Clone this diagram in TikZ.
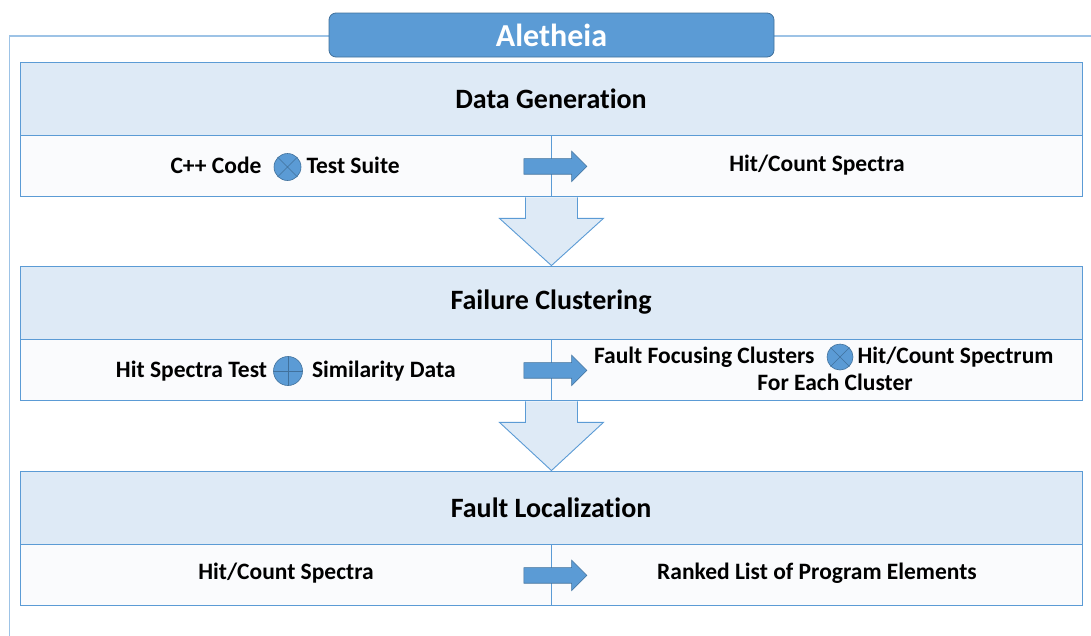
\documentclass[tikz,border=0pt]{standalone}
\usepackage{fontspec}
\setmainfont[Ligatures=NoCommon]{Carlito}
\usetikzlibrary{shapes.arrows,positioning,calc}

\definecolor{accent}{HTML}{5B9BD5}
\definecolor{accentdark}{HTML}{41719C}
\definecolor{headfill}{HTML}{DEEAF6}
\definecolor{bodyfill}{HTML}{FAFBFD}
\definecolor{framecol}{HTML}{9DC3E6}

\tikzset{
  frameline/.style={draw=framecol, line width=1.3pt},
  titlebox/.style={draw=accentdark, fill=accent, line width=0.8pt, rounded corners=7pt,
    minimum width=445pt, minimum height=44pt, text=white, font=\bfseries\fontsize{32}{36}\selectfont},
  headbox/.style={draw=accent, fill=headfill, line width=0.9pt,
    minimum width=1062pt, minimum height=73pt, font=\bfseries\fontsize{28}{32}\selectfont},
  bodybox/.style={draw=accent, fill=bodyfill, line width=0.9pt,
    minimum width=531pt, minimum height=61pt},
  label/.style={font=\bfseries\fontsize{23.5}{27}\selectfont, inner sep=0pt},
  opcircle/.style={circle, draw=accentdark, fill=accent, line width=0.6pt, minimum size=27pt, inner sep=0pt},
  flowarrow/.style={single arrow, draw=accentdark, fill=accent, line width=0.6pt,
    minimum height=63pt, minimum width=30pt, inner xsep=0pt, inner ysep=7.5pt,
    single arrow head extend=7.5pt},
  downarrow/.style={draw=accent, fill=headfill, line width=0.9pt},
}

\newcommand{\crossmark}[1]{%
  \draw[accentdark, line width=0.6pt] (#1.45) -- (#1.225) (#1.135) -- (#1.315);}
\newcommand{\plusmark}[1]{%
  \draw[accentdark, line width=0.6pt] (#1.north) -- (#1.south) (#1.west) -- (#1.east);}

\begin{document}
\begin{tikzpicture}[x=1pt,y=-1pt]
\useasboundingbox (0,0) rectangle (1091,635);

% outer frame, open at right and bottom
\draw[frameline] (330,36) -| (9.5,636);
\draw[frameline] (774,36) -- (1092,36);

% title
\node[titlebox] (title) at (551.5,35) {Aletheia};

% stage 1: data generation
\node[headbox] (h1) at (551,98.5) {Data Generation};
\node[bodybox, anchor=north west] (l1) at (h1.south west) {};
\node[bodybox, anchor=north east] (r1) at (h1.south east) {};

% stage 2: failure clustering
\node[headbox] (h2) at (551,302.5) {Failure Clustering};
\node[bodybox, anchor=north west] (l2) at (h2.south west) {};
\node[bodybox, anchor=north east] (r2) at (h2.south east) {};

% stage 3: fault localization
\node[headbox] (h3) at (551,507.5) {Fault Localization};
\node[bodybox, anchor=north west] (l3) at (h3.south west) {};
\node[bodybox, anchor=north east] (r3) at (h3.south east) {};

% down arrows between stages
\foreach \a/\b in {l1/h2, l2/h3}{
  \draw[downarrow]
    ($(\a.south east)+(-26,0)$) -- ($(\a.south east)+(-26,21)$) -- ($(\a.south east)+(-52,21)$)
    -- (\b.north-|\a.east) -- ($(\a.south east)+(52,21)$) -- ($(\a.south east)+(26,21)$)
    -- ($(\a.south east)+(26,0)$);
}
\draw[accent, line width=0.9pt] (l1.north east) -- (l1.south east);
\draw[accent, line width=0.9pt] (l2.north east) -- (l2.south east);

% row 1
\node[opcircle] (c1) at (287.5,167) {};
\crossmark{c1}
\node[label, left=12pt of c1, yshift=1.5pt] (t1a) {C++ Code};
\node[label, right=5pt of c1, yshift=1.5pt] (t1b) {Test Suite};
\node[label] (t1c) at (817,165) {Hit/Count Spectra};

% row 2
\node[opcircle, minimum size=29pt] (c2) at (288,371) {};
\plusmark{c2}
\node[label, left=6pt of c2] (t2a) {Hit Spectra Test};
\node[label, right=9pt of c2] (t2b) {Similarity Data};
\node[opcircle, minimum size=26pt] (c3) at (840,357) {};
\crossmark{c3}
\node[label, left=12pt of c3] (t2c) {Fault Focusing Clusters};
\node[label, right=4pt of c3] (t2d) {Hit/Count Spectrum};
\node[label] (t2e) at (835,382) {For Each Cluster};

% row 3
\node[label] (t3a) at (286,573) {Hit/Count Spectra};
\node[label] (t3b) at (817,573) {Ranked List of Program Elements};

% right arrows across each row
\node[flowarrow] (a1) at (l1.east) {};
\node[flowarrow] (a2) at (l2.east) {};
\node[flowarrow] (a3) at (l3.east) {};
\end{tikzpicture}
\end{document}
